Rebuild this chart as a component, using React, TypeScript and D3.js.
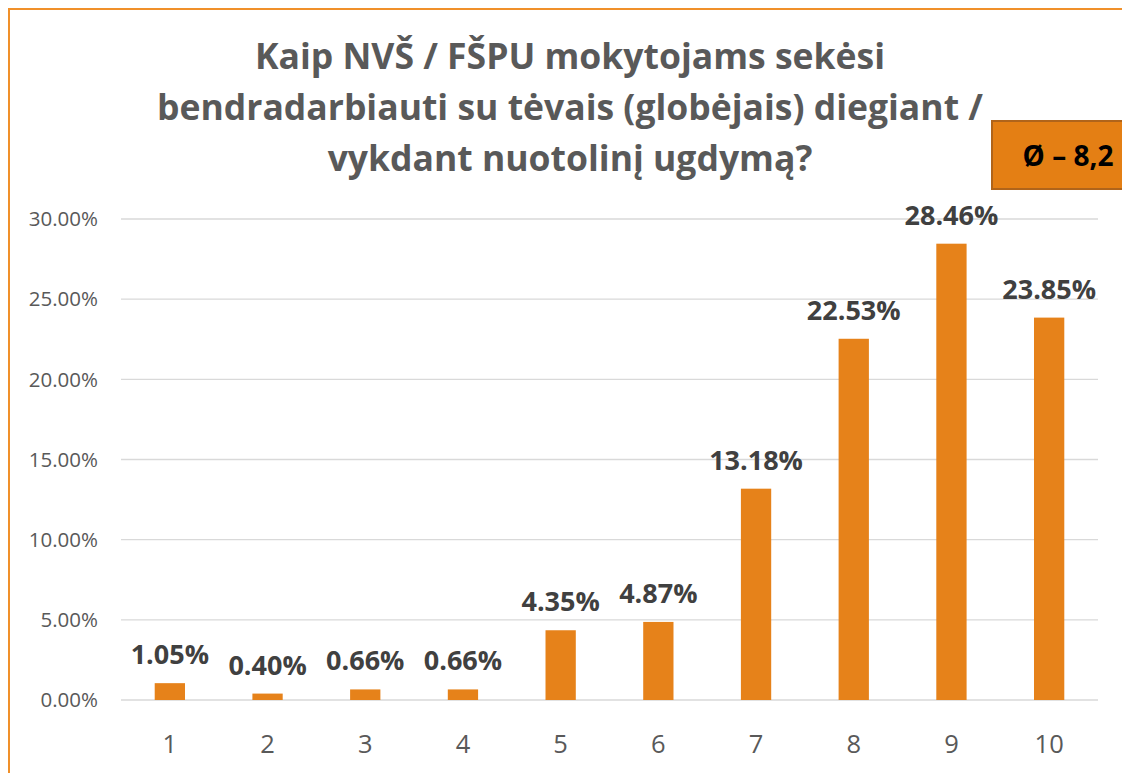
import { useEffect, useRef } from 'react';
import * as d3 from 'd3';

const categories = ['1', '2', '3', '4', '5', '6', '7', '8', '9', '10'];
const values = [1.05, 0.4, 0.66, 0.66, 4.35, 4.87, 13.18, 22.53, 28.46, 23.85];
const yTicks = [0, 5, 10, 15, 20, 25, 30];
const titleLines = [
  'Kaip NVŠ / FŠPU mokytojams sekėsi',
  'bendradarbiauti su tėvais (globėjais) diegiant /',
  'vykdant nuotolinį ugdymą?',
];
const badgeText = 'Ø – 8,2';

const W = 1122;
const H = 773;
const FONT = '"Open Sans", Lato, sans-serif';

const App = () => {
  const ref = useRef<SVGSVGElement>(null);

  useEffect(() => {
    const svg = d3.select(ref.current);
    svg.selectAll('*').remove();

    // chart frame (cropped on right and bottom)
    svg
      .append('rect')
      .attr('x', 9)
      .attr('y', 9)
      .attr('width', W + 20)
      .attr('height', H + 20)
      .attr('fill', 'white')
      .attr('stroke', '#F0902A')
      .attr('stroke-width', 2);

    const x = d3.scaleBand().domain(categories).range([121, 1098]).paddingInner(0.69).paddingOuter(0.345);
    const y = d3.scaleLinear().domain([0, 30]).range([700, 219]);

    // gridlines
    svg
      .append('g')
      .selectAll('line')
      .data(yTicks)
      .enter()
      .append('line')
      .attr('x1', 121)
      .attr('x2', 1098)
      .attr('y1', (d) => y(d))
      .attr('y2', (d) => y(d))
      .attr('stroke', '#D9D9D9')
      .attr('stroke-width', 1.3);

    // y tick labels
    svg
      .append('g')
      .selectAll('text')
      .data(yTicks)
      .enter()
      .append('text')
      .attr('x', 98)
      .attr('y', (d) => y(d))
      .attr('dy', '0.35em')
      .attr('text-anchor', 'end')
      .attr('font-family', FONT)
      .attr('font-size', 20.5)
      .attr('fill', '#595959')
      .text((d) => d.toFixed(2) + '%');

    // bars
    svg
      .append('g')
      .selectAll('rect')
      .data(values)
      .enter()
      .append('rect')
      .attr('x', (_, i) => x(categories[i])!)
      .attr('y', (d) => y(d))
      .attr('width', x.bandwidth())
      .attr('height', (d) => y(0) - y(d))
      .attr('fill', '#E6821A');

    // data labels
    svg
      .append('g')
      .selectAll('text')
      .data(values)
      .enter()
      .append('text')
      .attr('x', (_, i) => x(categories[i])! + x.bandwidth() / 2)
      .attr('y', (d) => y(d) - 19)
      .attr('text-anchor', 'middle')
      .attr('font-family', FONT)
      .attr('font-weight', 'bold')
      .attr('font-size', 27)
      .attr('fill', '#404040')
      .text((d) => d.toFixed(2) + '%');

    // x tick labels
    svg
      .append('g')
      .selectAll('text')
      .data(categories)
      .enter()
      .append('text')
      .attr('x', (d) => x(d)! + x.bandwidth() / 2)
      .attr('y', 753)
      .attr('text-anchor', 'middle')
      .attr('font-family', FONT)
      .attr('font-size', 25.5)
      .attr('fill', '#595959')
      .text((d) => d);

    // title
    svg
      .append('g')
      .selectAll('text')
      .data(titleLines)
      .enter()
      .append('text')
      .attr('x', 570)
      .attr('y', (_, i) => 69 + i * 51)
      .attr('text-anchor', 'middle')
      .attr('font-family', FONT)
      .attr('font-weight', 'bold')
      .attr('font-size', 35.5)
      .attr('fill', '#595959')
      .text((d) => d);

    // average badge
    svg
      .append('rect')
      .attr('x', 992)
      .attr('y', 121)
      .attr('width', 160)
      .attr('height', 68)
      .attr('fill', '#E47F14')
      .attr('stroke', '#B0641A')
      .attr('stroke-width', 2);
    svg
      .append('text')
      .attr('x', 1068)
      .attr('y', 156)
      .attr('dy', '0.35em')
      .attr('text-anchor', 'middle')
      .attr('font-family', FONT)
      .attr('font-weight', 'bold')
      .attr('font-size', 28)
      .attr('fill', '#000')
      .text(badgeText);
  }, []);

  return (
    <svg
      ref={ref}
      width={W}
      height={H}
      style={{ position: 'absolute', left: 0, top: 0, display: 'block' }}
    />
  );
};

export default App;
